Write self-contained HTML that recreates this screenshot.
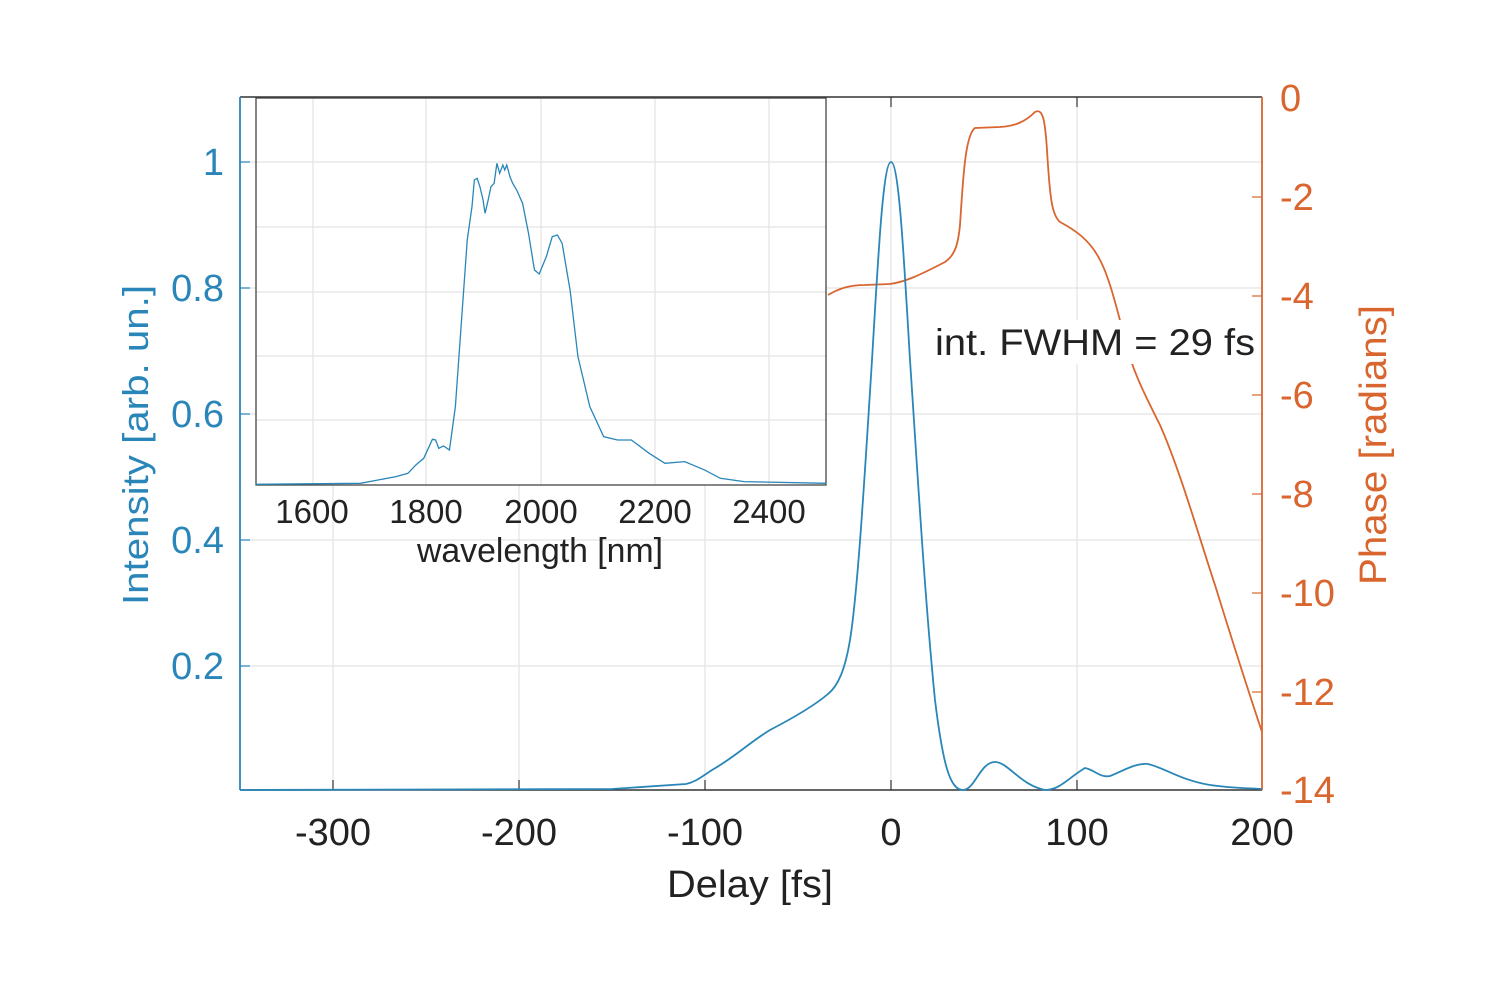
<!DOCTYPE html>
<html><head><meta charset="utf-8"><style>
body{margin:0;background:#fff}
svg text{font-family:"Liberation Sans",sans-serif}
</style></head><body>
<svg width="1500" height="1000" viewBox="0 0 1500 1000" xmlns="http://www.w3.org/2000/svg">
<rect width="1500" height="1000" fill="#fff"/>
<g stroke="#e3e3e3" stroke-width="1.2">
<line x1="333" y1="97" x2="333" y2="790"/><line x1="519" y1="97" x2="519" y2="790"/><line x1="705" y1="97" x2="705" y2="790"/><line x1="891" y1="97" x2="891" y2="790"/><line x1="1077" y1="97" x2="1077" y2="790"/>
<line x1="240" y1="162" x2="1262" y2="162"/><line x1="240" y1="288" x2="1262" y2="288"/><line x1="240" y1="414" x2="1262" y2="414"/><line x1="240" y1="540" x2="1262" y2="540"/><line x1="240" y1="666" x2="1262" y2="666"/>
</g>
<line x1="240" y1="97" x2="1262" y2="97" stroke="#333" stroke-width="1.5"/>
<line x1="240" y1="790" x2="1262" y2="790" stroke="#333" stroke-width="1.5"/>
<line x1="240" y1="97" x2="240" y2="790" stroke="#2a86b8" stroke-width="1.8"/>
<line x1="1262" y1="97" x2="1262" y2="790" stroke="#d9652f" stroke-width="1.8"/>
<g stroke="#333" stroke-width="1.2">
<line x1="333" y1="790" x2="333" y2="780"/><line x1="519" y1="790" x2="519" y2="780"/><line x1="705" y1="790" x2="705" y2="780"/><line x1="891" y1="790" x2="891" y2="780"/><line x1="1077" y1="790" x2="1077" y2="780"/>
<line x1="333" y1="97" x2="333" y2="107"/><line x1="519" y1="97" x2="519" y2="107"/><line x1="705" y1="97" x2="705" y2="107"/><line x1="891" y1="97" x2="891" y2="107"/><line x1="1077" y1="97" x2="1077" y2="107"/>
</g>
<g stroke="#2a86b8" stroke-width="1.2">
<line x1="240" y1="162" x2="250" y2="162"/><line x1="240" y1="288" x2="250" y2="288"/><line x1="240" y1="414" x2="250" y2="414"/><line x1="240" y1="540" x2="250" y2="540"/><line x1="240" y1="666" x2="250" y2="666"/>
</g>
<g stroke="#d9652f" stroke-width="1.2">
<line x1="1252" y1="197" x2="1262" y2="197"/><line x1="1252" y1="296" x2="1262" y2="296"/><line x1="1252" y1="395" x2="1262" y2="395"/><line x1="1252" y1="494" x2="1262" y2="494"/><line x1="1252" y1="593" x2="1262" y2="593"/><line x1="1252" y1="692" x2="1262" y2="692"/>
</g>
<g font-size="38" fill="#222" text-anchor="middle">
<text x="333" y="845">-300</text><text x="519" y="845">-200</text><text x="705" y="845">-100</text><text x="891" y="845">0</text><text x="1077" y="845">100</text><text x="1262" y="845">200</text>
<text x="750" y="897" font-size="38" textLength="166" lengthAdjust="spacingAndGlyphs">Delay [fs]</text>
</g>
<g font-size="38" fill="#2a86b8" text-anchor="end">
<text x="224" y="175">1</text><text x="224" y="301">0.8</text><text x="224" y="427">0.6</text><text x="224" y="553">0.4</text><text x="224" y="679">0.2</text>
</g>
<text transform="translate(148,445) rotate(-90)" font-size="36" fill="#2a86b8" text-anchor="middle" textLength="320" lengthAdjust="spacingAndGlyphs">Intensity [arb. un.]</text>
<g font-size="38" fill="#d9652f" text-anchor="start">
<text x="1280" y="111">0</text><text x="1280" y="210">-2</text><text x="1280" y="309">-4</text><text x="1280" y="408">-6</text><text x="1280" y="507">-8</text><text x="1280" y="606">-10</text><text x="1280" y="705">-12</text><text x="1280" y="803">-14</text>
</g>
<text transform="translate(1386,445) rotate(-90)" font-size="38" fill="#d9652f" text-anchor="middle" textLength="280" lengthAdjust="spacingAndGlyphs">Phase [radians]</text>
<path d="M828,295 C840,288 850,285 865,285 L890,284 C905,282 920,275 945,262 C955,255 958,245 960,225 C963,180 965,135 975,128 L1000,127 C1015,126 1025,122 1035,112 C1043,108 1045,120 1047,150 C1050,200 1052,215 1060,222 C1075,230 1090,240 1100,260 C1108,275 1115,300 1125,340 C1132,370 1145,395 1160,425 C1180,470 1200,540 1215,585 C1232,640 1248,690 1262,732" fill="none" stroke="#d9652f" stroke-width="1.8"/>
<path d="M240,790 L612,789 L686,784 C695,782 700,778 712,770 C735,757 750,742 770,730 C795,717 815,705 828,694 C838,686 845,670 850,640 C858,590 865,470 872,360 C878,260 883,162 891,162 C899,162 904,260 910,360 C918,480 925,600 935,700 C943,765 950,790 963,790 C975,790 980,762 995,762 C1008,762 1020,785 1045,790 C1060,790 1068,778 1085,768 C1095,770 1100,778 1110,776 C1125,770 1135,763 1148,764 C1165,768 1180,780 1210,785 C1230,788 1245,788 1262,789" fill="none" stroke="#2a86b8" stroke-width="1.8"/>
<rect x="256" y="98" width="570" height="387" fill="#fff"/>
<g stroke="#e3e3e3" stroke-width="1.2">
<line x1="313" y1="98" x2="313" y2="485"/><line x1="426" y1="98" x2="426" y2="485"/><line x1="541" y1="98" x2="541" y2="485"/><line x1="655" y1="98" x2="655" y2="485"/><line x1="769" y1="98" x2="769" y2="485"/>
<line x1="256" y1="162" x2="826" y2="162"/><line x1="256" y1="227" x2="826" y2="227"/><line x1="256" y1="292" x2="826" y2="292"/><line x1="256" y1="356" x2="826" y2="356"/><line x1="256" y1="420" x2="826" y2="420"/>
</g>
<rect x="256" y="98" width="570" height="387" fill="none" stroke="#444" stroke-width="1.3"/>
<g transform="translate(230,90) scale(0.3954,0.3333)">
<path vector-effect="non-scaling-stroke" d="M65,1183 L330,1180 L420,1160 L450,1150 L470,1125 L490,1105 L512,1048 L520,1050 L528,1075 L540,1068 L555,1080 L570,950 L585,700 L600,450 L612,350 L618,270 L625,265 L632,290 L640,330 L645,370 L652,335 L660,290 L668,280 L675,220 L682,250 L690,225 L695,240 L700,225 L708,260 L715,280 L725,300 L740,340 L755,430 L770,540 L782,552 L800,500 L815,440 L828,435 L840,460 L860,600 L880,800 L910,950 L945,1040 L980,1050 L1015,1050 L1060,1090 L1100,1120 L1150,1115 L1200,1140 L1240,1165 L1300,1175 L1508,1180" fill="none" stroke="#2a86b8" stroke-width="1.3"/>
</g>
<g font-size="33" fill="#222" text-anchor="middle">
<text x="312" y="523">1600</text><text x="426" y="523">1800</text><text x="541" y="523">2000</text><text x="655" y="523">2200</text><text x="769" y="523">2400</text>
<text x="540" y="562" font-size="34" textLength="246" lengthAdjust="spacingAndGlyphs">wavelength [nm]</text>
</g>
<rect x="930" y="320" width="328" height="44" fill="#fff"/>
<text x="935" y="355" font-size="37" fill="#222" textLength="320" lengthAdjust="spacingAndGlyphs">int. FWHM = 29 fs</text>
</svg>
</body></html>
